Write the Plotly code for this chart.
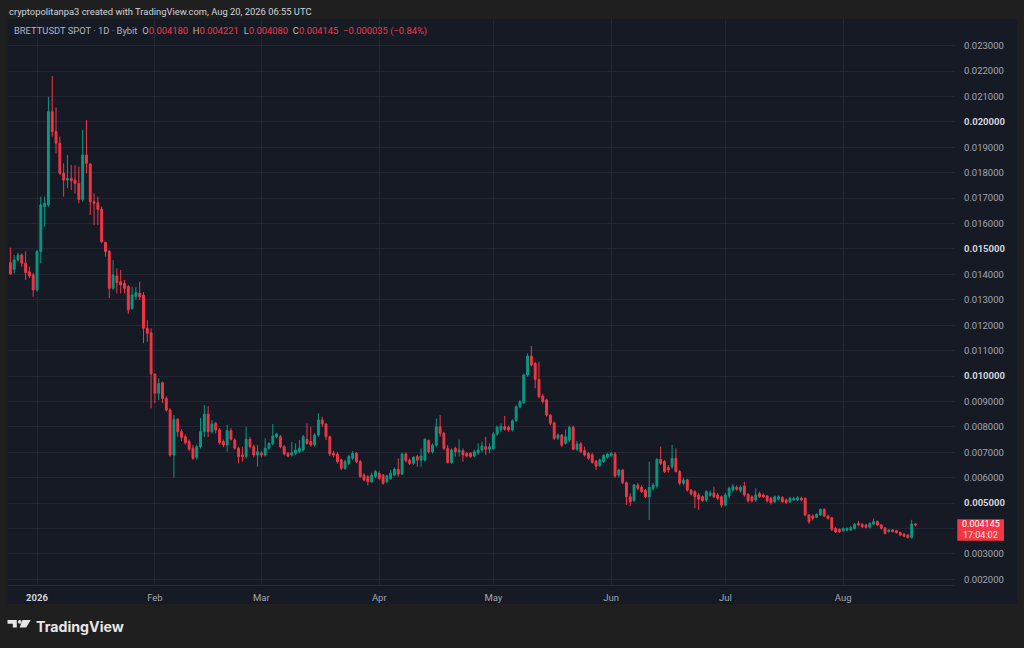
import pandas as pd
import plotly.graph_objects as go

# ---------------- data (prices, in units of 0.001 USDT) ----------------
START_DATE = "2025-12-25"
PRICE_UNIT = 0.001

open_k = [14.46, 14.20, 14.57, 14.76, 14.44, 14.10, 13.98, 13.39, 14.90, 16.67,
          16.73, 20.40, 19.62, 19.16, 17.98, 17.71, 17.77, 17.71, 17.58, 16.95,
          18.70, 18.34, 16.86, 16.82, 16.56, 15.26, 14.90, 13.45, 13.94, 13.71,
          13.64, 13.52, 12.66, 13.12, 13.25, 13.19, 11.88, 11.70, 10.08, 9.32,
          9.74, 9.12, 8.66, 6.89, 8.30, 7.81, 7.61, 7.42, 7.16, 6.80,
          7.22, 7.81, 8.50, 7.81, 8.14, 7.88, 7.42, 7.29, 7.85, 7.48,
          7.16, 6.89, 6.83, 7.51, 7.22, 6.89, 6.97, 6.89, 7.16, 7.33,
          7.61, 7.61, 7.22, 6.96, 6.89, 6.96, 7.03, 7.09, 7.51, 7.42,
          7.29, 7.68, 8.27, 8.11, 7.61, 6.96, 6.93, 6.70, 6.37, 6.56,
          6.76, 6.96, 6.63, 6.10, 6.04, 5.84, 6.05, 6.17, 6.10, 5.84,
          5.97, 6.10, 6.33, 6.14, 6.93, 6.69, 6.56, 6.83, 6.69, 6.69,
          7.46, 7.02, 7.28, 8.00, 7.74, 7.15, 6.59, 7.15, 7.02, 7.06,
          6.96, 6.96, 6.85, 6.98, 7.09, 7.22, 7.12, 7.15, 7.72, 7.90,
          8.01, 7.98, 7.88, 8.24, 8.79, 8.95, 10.04, 10.79, 10.50, 9.87,
          9.21, 9.06, 8.46, 8.16, 7.55, 7.68, 7.35, 7.48, 7.98, 7.12,
          7.33, 7.06, 6.96, 6.90, 6.65, 6.48, 6.63, 6.80, 6.87, 6.93,
          6.10, 6.30, 5.80, 5.25, 5.10, 5.71, 5.62, 5.50, 5.25, 5.58,
          5.67, 6.72, 6.63, 6.40, 6.43, 6.76, 6.24, 5.78, 5.91, 5.51,
          5.45, 5.32, 5.25, 5.12, 5.30, 5.40, 5.32, 5.25, 4.92, 5.28,
          5.51, 5.62, 5.49, 5.67, 5.34, 5.25, 5.12, 5.38, 5.32, 5.28,
          5.19, 5.05, 5.15, 5.22, 5.12, 5.05, 5.12, 5.12, 5.19, 5.19,
          4.53, 4.49, 4.44, 4.53, 4.75, 4.49, 4.42, 4.00, 3.97, 3.91,
          3.94, 3.94, 4.00, 4.20, 4.16, 4.14, 4.05, 4.18, 4.27, 4.14,
          4.02, 3.88, 3.94, 3.91, 3.84, 3.78, 3.74, 3.65, 4.180]

high_k = [15.05, 14.76, 14.85, 14.83, 14.90, 14.30, 14.05, 14.96, 17.06, 17.06,
          20.99, 21.81, 20.57, 19.42, 18.37, 18.70, 18.30, 18.30, 18.24, 19.68,
          20.07, 18.37, 17.19, 17.06, 16.66, 15.29, 14.96, 14.56, 14.24, 14.17,
          13.78, 13.58, 13.52, 13.50, 13.71, 13.30, 12.20, 11.88, 10.10, 9.91,
          9.78, 9.20, 8.73, 8.47, 8.34, 7.90, 7.70, 7.50, 7.29, 7.30,
          8.34, 8.86, 8.82, 8.27, 8.20, 7.95, 7.50, 8.07, 7.95, 7.55,
          7.22, 7.22, 8.00, 7.60, 7.30, 7.29, 7.05, 7.55, 7.40, 8.11,
          7.77, 7.68, 7.28, 7.00, 7.40, 7.35, 7.48, 7.68, 8.14, 8.00,
          7.75, 8.53, 8.40, 8.14, 7.65, 7.05, 7.00, 6.75, 6.70, 6.90,
          7.05, 7.00, 6.70, 6.17, 6.10, 6.20, 6.30, 6.25, 6.14, 6.12,
          6.30, 6.40, 6.76, 7.00, 7.00, 6.75, 6.85, 6.90, 7.15, 7.55,
          7.50, 7.35, 8.33, 8.46, 7.80, 7.28, 7.15, 7.22, 7.50, 7.15,
          7.00, 7.00, 7.10, 7.35, 7.42, 7.61, 7.35, 7.80, 8.05, 8.14,
          8.43, 8.05, 8.30, 8.85, 9.06, 10.10, 10.89, 11.18, 10.56, 10.56,
          9.30, 9.10, 8.50, 8.20, 7.74, 7.72, 7.90, 8.05, 8.05, 7.45,
          7.40, 7.22, 7.00, 6.98, 6.70, 6.75, 6.92, 6.98, 7.00, 7.00,
          6.35, 6.35, 5.85, 5.38, 5.75, 5.80, 5.70, 5.55, 6.63, 5.80,
          6.76, 7.22, 6.70, 6.50, 7.29, 7.15, 6.30, 6.00, 5.96, 5.55,
          5.50, 5.40, 5.30, 5.50, 5.50, 5.65, 5.40, 5.30, 5.40, 5.65,
          5.75, 5.70, 5.70, 5.84, 5.40, 5.30, 5.58, 5.45, 5.38, 5.32,
          5.25, 5.30, 5.30, 5.28, 5.18, 5.25, 5.25, 5.28, 5.25, 5.22,
          4.56, 4.55, 4.60, 4.80, 4.80, 4.55, 4.45, 4.05, 4.00, 4.05,
          4.05, 4.10, 4.22, 4.30, 4.22, 4.18, 4.25, 4.40, 4.32, 4.18,
          4.06, 3.98, 3.98, 3.95, 3.88, 3.82, 3.78, 4.34, 4.221]

low_k = [13.98, 14.04, 14.50, 14.30, 13.78, 13.85, 13.12, 13.32, 14.43, 15.88,
         16.66, 19.42, 18.76, 17.91, 17.06, 17.39, 17.32, 17.19, 16.80, 16.86,
         17.98, 16.34, 15.94, 15.94, 15.22, 14.70, 13.06, 13.39, 13.25, 13.25,
         13.25, 12.45, 12.60, 13.00, 13.00, 11.29, 11.35, 8.73, 8.93, 9.05,
         8.93, 8.60, 6.83, 6.00, 7.61, 7.45, 7.30, 7.05, 6.70, 6.72,
         7.15, 7.60, 7.60, 7.74, 7.74, 7.30, 7.20, 7.02, 7.45, 7.10,
         6.56, 6.63, 6.76, 7.15, 6.80, 6.43, 6.80, 6.83, 7.10, 7.28,
         7.55, 7.15, 6.88, 6.80, 6.83, 6.89, 6.96, 7.02, 7.30, 7.22,
         7.22, 7.61, 8.00, 7.48, 6.85, 6.80, 6.55, 6.30, 6.30, 6.50,
         6.70, 6.57, 5.98, 5.85, 5.70, 5.78, 5.98, 5.90, 5.72, 5.78,
         5.92, 6.05, 6.04, 6.10, 6.60, 6.50, 6.50, 6.43, 6.43, 6.63,
         6.95, 6.95, 7.22, 7.61, 7.08, 6.56, 6.55, 6.83, 6.83, 6.63,
         6.80, 6.78, 6.80, 6.90, 7.00, 6.90, 6.96, 7.10, 7.65, 7.80,
         7.85, 7.80, 7.82, 8.20, 8.73, 8.90, 9.97, 10.37, 9.52, 9.12,
         8.92, 8.40, 8.07, 7.48, 7.48, 7.20, 7.30, 7.40, 7.08, 7.05,
         6.96, 6.83, 6.70, 6.55, 6.30, 6.42, 6.58, 6.75, 6.82, 6.00,
         6.00, 5.75, 4.93, 4.88, 5.05, 5.50, 5.40, 5.20, 4.33, 5.50,
         5.58, 6.50, 6.18, 6.20, 6.35, 6.20, 5.70, 5.70, 5.45, 5.30,
         4.80, 4.73, 5.05, 5.05, 5.25, 5.20, 5.12, 4.83, 4.88, 5.20,
         5.45, 5.48, 5.42, 5.25, 5.02, 5.02, 5.05, 5.20, 5.20, 5.02,
         4.95, 5.00, 5.10, 5.00, 4.96, 5.00, 5.08, 5.08, 5.08, 4.48,
         4.18, 4.32, 4.40, 4.50, 4.45, 4.35, 3.90, 3.82, 3.83, 3.87,
         3.90, 3.90, 3.96, 4.08, 4.02, 4.00, 4.00, 4.14, 4.10, 3.96,
         3.76, 3.84, 3.84, 3.80, 3.70, 3.66, 3.60, 3.60, 4.080]

close_k = [14.02, 14.57, 14.76, 14.44, 14.07, 13.94, 13.39, 14.90, 16.73, 16.80,
           20.40, 19.62, 19.16, 17.98, 17.71, 17.78, 17.69, 17.58, 16.95, 18.70,
           18.37, 16.86, 16.80, 16.56, 15.29, 14.90, 13.45, 13.98, 13.67, 13.58,
           13.45, 12.60, 13.19, 13.28, 13.12, 11.88, 11.68, 10.08, 9.32, 9.71,
           9.12, 8.66, 6.89, 8.30, 7.81, 7.59, 7.38, 7.12, 6.76, 7.22,
           7.81, 8.50, 7.81, 8.11, 7.88, 7.38, 7.29, 7.85, 7.51, 7.16,
           6.83, 6.83, 7.51, 7.22, 6.89, 7.02, 6.89, 7.16, 7.35, 7.64,
           7.72, 7.22, 6.93, 6.85, 6.98, 7.09, 7.16, 7.61, 7.35, 7.29,
           7.68, 8.27, 8.11, 7.61, 6.93, 6.89, 6.63, 6.37, 6.63, 6.83,
           6.96, 6.63, 6.04, 5.91, 5.84, 6.10, 6.24, 5.97, 5.78, 6.07,
           6.17, 6.33, 6.14, 6.93, 6.67, 6.56, 6.80, 6.69, 6.85, 7.51,
           7.02, 7.28, 8.00, 7.74, 7.15, 6.59, 7.09, 7.02, 7.09, 6.89,
           6.85, 6.83, 7.02, 7.09, 7.25, 7.12, 7.22, 7.72, 7.98, 8.01,
           7.90, 7.88, 8.24, 8.79, 8.99, 10.04, 10.79, 10.43, 9.87, 9.19,
           8.99, 8.46, 8.14, 7.55, 7.68, 7.28, 7.61, 7.98, 7.12, 7.33,
           7.02, 6.89, 6.76, 6.60, 6.45, 6.70, 6.87, 6.93, 6.96, 6.07,
           6.30, 5.80, 5.25, 5.05, 5.71, 5.58, 5.45, 5.25, 5.62, 5.71,
           6.72, 6.56, 6.24, 6.30, 6.76, 6.24, 5.78, 5.91, 5.51, 5.36,
           5.25, 5.15, 5.10, 5.45, 5.40, 5.25, 5.19, 4.92, 5.32, 5.58,
           5.65, 5.54, 5.62, 5.32, 5.09, 5.09, 5.32, 5.25, 5.25, 5.09,
           5.02, 5.25, 5.25, 5.05, 5.02, 5.19, 5.19, 5.21, 5.12, 4.53,
           4.27, 4.40, 4.56, 4.75, 4.49, 4.40, 3.97, 3.87, 3.87, 4.00,
           4.00, 4.04, 4.16, 4.14, 4.07, 4.05, 4.20, 4.27, 4.14, 4.01,
           3.81, 3.94, 3.88, 3.84, 3.74, 3.70, 3.65, 4.18, 4.145]

ytick_vals = [0.002, 0.003, 0.004, 0.005, 0.006, 0.007, 0.008, 0.009, 0.010, 0.011, 0.012,
              0.013, 0.014, 0.015, 0.016, 0.017, 0.018, 0.019, 0.020, 0.021, 0.022, 0.023]
ytick_bold = [0.005, 0.010, 0.015, 0.020]
ytick_hidden = [0.004]   # covered by the last-price label in the original
xtick_vals = ["2026-01-01", "2026-02-01", "2026-03-01", "2026-04-01",
              "2026-05-01", "2026-06-01", "2026-07-01", "2026-08-01"]
xtick_text = ["2026", "Feb", "Mar", "Apr", "May", "Jun", "Jul", "Aug"]
xtick_bold = ["2026"]

HEADER = "cryptopolitanpa3 created with TradingView.com, Aug 20, 2026 06:55 UTC"
SYMBOL = "BRETTUSDT SPOT · 1D · Bybit"
COUNTDOWN = "17:04:02"

# ---------------- derived ----------------
dates = pd.date_range(START_DATE, periods=len(open_k), freq="D")
o = [v * PRICE_UNIT for v in open_k]
h = [v * PRICE_UNIT for v in high_k]
l = [v * PRICE_UNIT for v in low_k]
c = [v * PRICE_UNIT for v in close_k]

UP = "#089981"
DOWN = "#f23645"
PANEL = "#161a25"
OUTER = "#1f1f1f"
GRID = "#222632"
TXT = "#a3a6af"
TXT_BOLD = "#d1d4dc"
FONT = "Roboto"

W, H = 1024, 648
ML, MR, MT, MB = 8, 69, 19, 63
PW, PH = W - ML - MR, H - MT - MB
Y_RANGE = [0.001776, 0.02405]
Y_PER_PX = (Y_RANGE[1] - Y_RANGE[0]) / PH


def px(x):
    return (x - ML) / PW


def py(y):
    return (H - MB - y) / PH


fig = go.Figure()
fig.add_trace(go.Candlestick(
    x=dates, open=o, high=h, low=l, close=c,
    increasing=dict(line=dict(color=UP, width=1), fillcolor=UP),
    decreasing=dict(line=dict(color=DOWN, width=1), fillcolor=DOWN),
    whiskerwidth=0, showlegend=False, hoverinfo="skip",
))

# last price dotted line
last_close = c[-1]
fig.add_shape(type="line", xref="paper", yref="y", x0=0, x1=1,
              y0=last_close, y1=last_close,
              line=dict(color=DOWN, width=1, dash="dot"), layer="below")

# panel background
fig.add_shape(type="rect", xref="paper", yref="paper",
              x0=px(7.5), x1=px(1017), y0=py(604), y1=py(19),
              fillcolor=PANEL, line=dict(width=0), layer="below")

# last price label box on the price scale (anchored to the last close)
fig.add_shape(type="rect", xref="paper", yref="y",
              x0=px(957.3), x1=px(1004),
              y0=last_close - 15.9 * Y_PER_PX, y1=last_close + 5.5 * Y_PER_PX,
              fillcolor=DOWN, line=dict(width=0), layer="above")

# ---------------- axes ----------------
def fmt_y(v):
    if any(abs(v - b) < 1e-9 for b in ytick_hidden):
        return ""
    s = f"{v:.6f}"
    if any(abs(v - b) < 1e-9 for b in ytick_bold):
        return f"<span style='color:{TXT_BOLD}'><b>{s}</b></span>"
    return s


def fmt_x(t):
    if t in xtick_bold:
        return f"<span style='color:{TXT_BOLD}'><b>{t}</b></span>"
    return t


x_origin = pd.Timestamp(xtick_vals[0])
x_range = [x_origin - pd.Timedelta(days=7.63), x_origin + pd.Timedelta(days=241.4)]

fig.update_xaxes(
    type="date", range=x_range, rangeslider=dict(visible=False),
    tickvals=xtick_vals, ticktext=[fmt_x(t) for t in xtick_text],
    showgrid=True, gridcolor=GRID, gridwidth=1, zeroline=False,
    showline=True, linecolor="#262a36", linewidth=1,
    ticks="", tickfont=dict(family=FONT, size=9.5, color=TXT),
    ticklabelstandoff=4, fixedrange=True,
)
fig.update_yaxes(
    side="right", range=Y_RANGE,
    tickvals=ytick_vals, ticktext=[fmt_y(v) for v in ytick_vals],
    showgrid=True, gridcolor=GRID, gridwidth=1, zeroline=False,
    showline=False, ticks="", tickfont=dict(family=FONT, size=9.5, color=TXT),
    ticklabelstandoff=8, fixedrange=True,
)

# ---------------- texts ----------------
prev_close = c[-2]
chg = last_close - prev_close
pct = chg / prev_close * 100


def signed(v, fmt):
    s = format(abs(v), fmt)
    return ("\u2212" if v < 0 else "+") + s


legend_txt = (
    f"{SYMBOL}\u2002"
    f"O<span style='color:{DOWN}'>{o[-1]:.6f}</span>\u2002"
    f"H<span style='color:{DOWN}'>{h[-1]:.6f}</span>\u2002"
    f"L<span style='color:{DOWN}'>{l[-1]:.6f}</span>\u2002"
    f"C<span style='color:{DOWN}'>{last_close:.6f}</span>\u2002"
    f"<span style='color:{DOWN}'>{signed(chg, '.6f')} ({signed(pct, '.2f')}%)</span>"
)

annotations = [
    dict(text=HEADER, xref="paper", yref="paper", x=px(7), y=py(12),
         xanchor="left", yanchor="middle", showarrow=False,
         font=dict(family=FONT, size=9.4, color="#d1d4dc")),
    dict(text=legend_txt, xref="paper", yref="paper", x=px(12), y=py(31),
         xanchor="left", yanchor="middle", showarrow=False,
         font=dict(family=FONT, size=9.4, color="#b2b5be")),
    dict(text=f"{last_close:.6f}", xref="paper", yref="y",
         x=px(980.6), y=last_close, xanchor="center", yanchor="middle",
         yshift=0.5, showarrow=False, borderpad=0,
         font=dict(family=FONT, size=9, color="#ffffff")),
    dict(text=COUNTDOWN, xref="paper", yref="y",
         x=px(980.6), y=last_close, xanchor="center", yanchor="middle",
         yshift=-10.5, showarrow=False, borderpad=0,
         font=dict(family=FONT, size=9, color="#ffe9eb")),
    dict(text="<b>TradingView</b>", xref="paper", yref="paper", x=px(34), y=py(626),
         xanchor="left", yanchor="middle", showarrow=False,
         font=dict(family="Inter", size=14.2, color="#e6e6e6")),
]

# TradingView logo icon
def path_px(points):
    d = "M " + " L ".join(f"{px(x):.5f},{py(y):.5f}" for x, y in points) + " Z"
    return d


shapes_logo = [
    dict(type="path", xref="paper", yref="paper", layer="above",
         path=path_px([(7.5, 620), (16.8, 620), (16.8, 627.5), (12.8, 627.5),
                       (12.8, 623.7), (7.5, 623.7)]),
         fillcolor="#e6e6e6", line=dict(width=0)),
    dict(type="circle", xref="paper", yref="paper", layer="above",
         x0=px(17.9), x1=px(21.6), y0=py(623.7), y1=py(620),
         fillcolor="#e6e6e6", line=dict(width=0)),
    dict(type="path", xref="paper", yref="paper", layer="above",
         path=path_px([(22.5, 620), (30.7, 620), (26.2, 627.5), (19.6, 627.5)]),
         fillcolor="#e6e6e6", line=dict(width=0)),
]
for s in shapes_logo:
    fig.add_shape(**s)

fig.update_layout(
    width=W, height=H,
    margin=dict(l=ML, r=MR, t=MT, b=MB),
    paper_bgcolor=OUTER, plot_bgcolor="rgba(0,0,0,0)",
    font=dict(family=FONT, color=TXT),
    annotations=annotations,
    showlegend=False,
    hovermode=False,
)

fig.write_html(
    "out.html",
    config={"displayModeBar": False, "staticPlot": True},
    post_script="document.body.style.margin='0';document.body.style.overflow='hidden';"
                "document.body.style.background='" + OUTER + "';",
)
